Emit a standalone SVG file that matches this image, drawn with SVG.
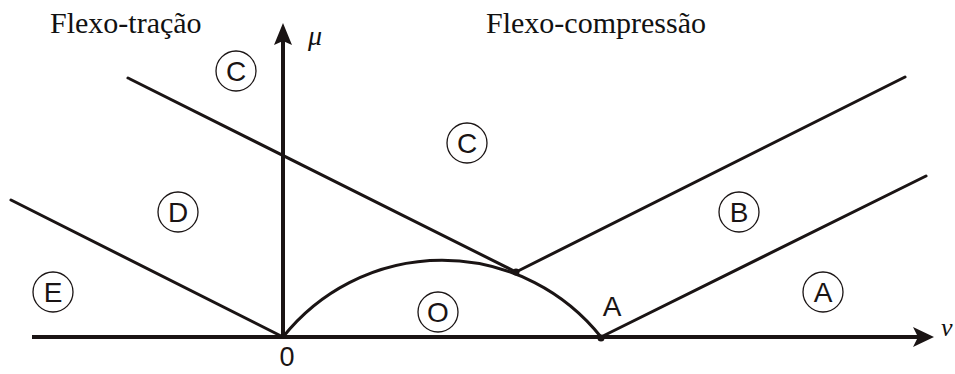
<svg xmlns="http://www.w3.org/2000/svg" width="955" height="374" viewBox="0 0 955 374">
<style>
.ln{stroke:#1a1414;stroke-width:3;fill:none;stroke-linecap:round}
.ax{stroke:#1a1414;stroke-width:4;fill:none}
.ring{fill:#fff;stroke:#1a1414;stroke-width:1.3}
.lt{font-family:"Liberation Sans",Arial,sans-serif;font-size:28px;fill:#1a1414;text-anchor:middle}
.tt{font-family:"Liberation Serif","Times New Roman",serif;font-size:30px;fill:#111}
.gr{font-family:"Liberation Serif","Times New Roman",serif;font-style:italic;font-size:28px;fill:#111}
.ah{fill:#1a1414}
</style>
<rect width="955" height="374" fill="#fff"/>
<g id="connectors">
<line class="ax" x1="32" y1="337" x2="920" y2="337"/>
<polygon class="ah" points="934,337 913,327 918,337 913,347"/>
<line class="ax" x1="283" y1="337" x2="283" y2="40"/>
<polygon class="ah" points="283,23 274,45 283,41 292,45"/>
<line class="ln" x1="11" y1="200" x2="283" y2="337"/>
<line class="ln" x1="128" y1="78" x2="516" y2="272"/>
<line class="ln" x1="516" y1="272" x2="905" y2="77"/>
<line class="ln" x1="601" y1="337" x2="926" y2="176"/>
<path class="ln" d="M283,337 A203,203 0 0 1 601,337"/>
<circle class="ah" cx="516" cy="272" r="3.5"/>
<circle class="ah" cx="601" cy="338" r="3.5"/>
</g>
<g id="title-left"><text class="tt" x="50" y="33">Flexo-tração</text></g>
<g id="title-right"><text class="tt" x="486" y="33">Flexo-compressão</text></g>
<g id="label-mu"><text class="gr" x="308" y="45">μ</text></g>
<g id="label-nu"><text class="gr" x="941" y="336" style="font-size:26px">ν</text></g>
<g id="label-0"><text class="lt" x="287" y="366" style="font-size:27px">0</text></g>
<g id="label-A"><text class="lt" x="612" y="316">A</text></g>
<g id="region-C1"><circle class="ring" cx="236" cy="71" r="20"/><text class="lt" x="236" y="81">C</text></g>
<g id="region-C2"><circle class="ring" cx="467" cy="143" r="20"/><text class="lt" x="467" y="153">C</text></g>
<g id="region-D"><circle class="ring" cx="178" cy="212" r="20"/><text class="lt" x="178" y="222">D</text></g>
<g id="region-B"><circle class="ring" cx="739" cy="212" r="20"/><text class="lt" x="739" y="222">B</text></g>
<g id="region-E"><circle class="ring" cx="53" cy="292" r="20"/><text class="lt" x="53" y="302">E</text></g>
<g id="region-O"><circle class="ring" cx="438" cy="312" r="20"/><text class="lt" x="438" y="322">O</text></g>
<g id="region-A"><circle class="ring" cx="823" cy="292" r="20"/><text class="lt" x="823" y="302">A</text></g>
</svg>
